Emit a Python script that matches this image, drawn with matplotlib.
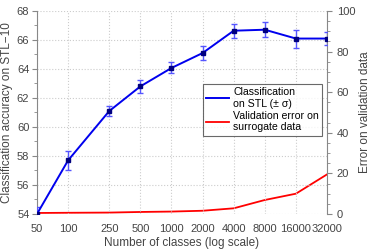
import matplotlib
matplotlib.use("Agg")
import matplotlib.pyplot as plt
from matplotlib.lines import Line2D
import numpy as np

plt.rcParams['font.family'] = ['Liberation Sans', 'DejaVu Sans']

classes = [50, 100, 250, 500, 1000, 2000, 4000, 8000, 16000, 32000]
tick_labels = ['50', '100', '250', '500', '1000', '2000', '4000', '8000', '16000', '32000']
accuracy = [54.0, 57.7, 61.1, 62.8, 64.07, 65.1, 66.64, 66.71, 66.1, 66.1]
acc_std = [0.45, 0.65, 0.35, 0.45, 0.38, 0.5, 0.48, 0.5, 0.62, 0.46]
val_error = [0.5, 0.6, 0.7, 1.0, 1.2, 1.6, 2.8, 6.9, 10.0, 19.5]
legend_labels = ['Classification\non STL (± σ)', 'Validation error on\nsurrogate data']

gray = '#888888'
txt = '#444444'
fig = plt.figure(figsize=(3.74, 2.49), dpi=100)
ax = fig.add_axes([37/374, 1-214/249, 290/374, 203/249])
ax2 = ax.twinx()

ax.set_xscale('log')
ax.errorbar(classes, accuracy, yerr=acc_std, color='#0000ee', lw=1.4, ecolor='#5555ff',
            elinewidth=1.0, capsize=2.2, capthick=1.0, marker='s', ms=3.2,
            mfc='#000080', mec='#000080', zorder=5)
ax2.plot(classes, val_error, color='#ff0000', lw=1.3)

ax.set_xlim(50, 32000)
ax.set_ylim(54, 68)
ax2.set_ylim(0, 100)
ax.set_xticks(classes)
ax.set_xticklabels(tick_labels)
ax.xaxis.set_minor_locator(matplotlib.ticker.NullLocator())
ax.set_yticks(np.arange(54, 69, 2))
ax.set_yticks(np.arange(55, 68, 2), minor=True)
ax2.set_yticks(np.arange(0, 101, 20))
ax2.set_yticks(np.arange(5, 100, 5), minor=True)

ax.grid(True, which='major', linestyle=':', color='#cccccc', lw=0.8)

for a in (ax, ax2):
    a.spines['top'].set_visible(False)
    a.spines['bottom'].set_visible(False)
    for s in ('left', 'right'):
        a.spines[s].set_color(gray)
    a.tick_params(which='both', colors=gray, labelcolor=txt, labelsize=8, direction='out')
    a.tick_params(which='major', length=3.5)
    a.tick_params(which='minor', length=2)
ax.tick_params(axis='y', pad=2)
ax.tick_params(axis='x', length=0, pad=7)
ax2.spines['left'].set_visible(False)
ax.spines['right'].set_visible(False)

ax.set_xlabel('Number of classes (log scale)', fontsize=8.5, color=txt, labelpad=2)
ax.set_ylabel('Classification accuracy on STL\u221210', fontsize=8.5, color=txt, labelpad=3)
ax2.set_ylabel('Error on validation data', fontsize=8.5, color=txt, labelpad=3)

handles = [Line2D([], [], color='#0000ee', lw=1.4), Line2D([], [], color='#ff0000', lw=1.3)]
leg = ax.legend(handles, legend_labels, loc='upper left',
                bbox_to_anchor=((203-37)/290, 1-(84-11)/203),
                fontsize=7.6, frameon=True, fancybox=False, edgecolor='#444444',
                handlelength=2.2, handletextpad=0.35, borderpad=0.3, labelspacing=0.2,
                borderaxespad=0)
leg.get_frame().set_linewidth(0.8)
ax.set_zorder(ax2.get_zorder() + 1)
ax.patch.set_visible(False)
fig.savefig('out.png', dpi=100)
